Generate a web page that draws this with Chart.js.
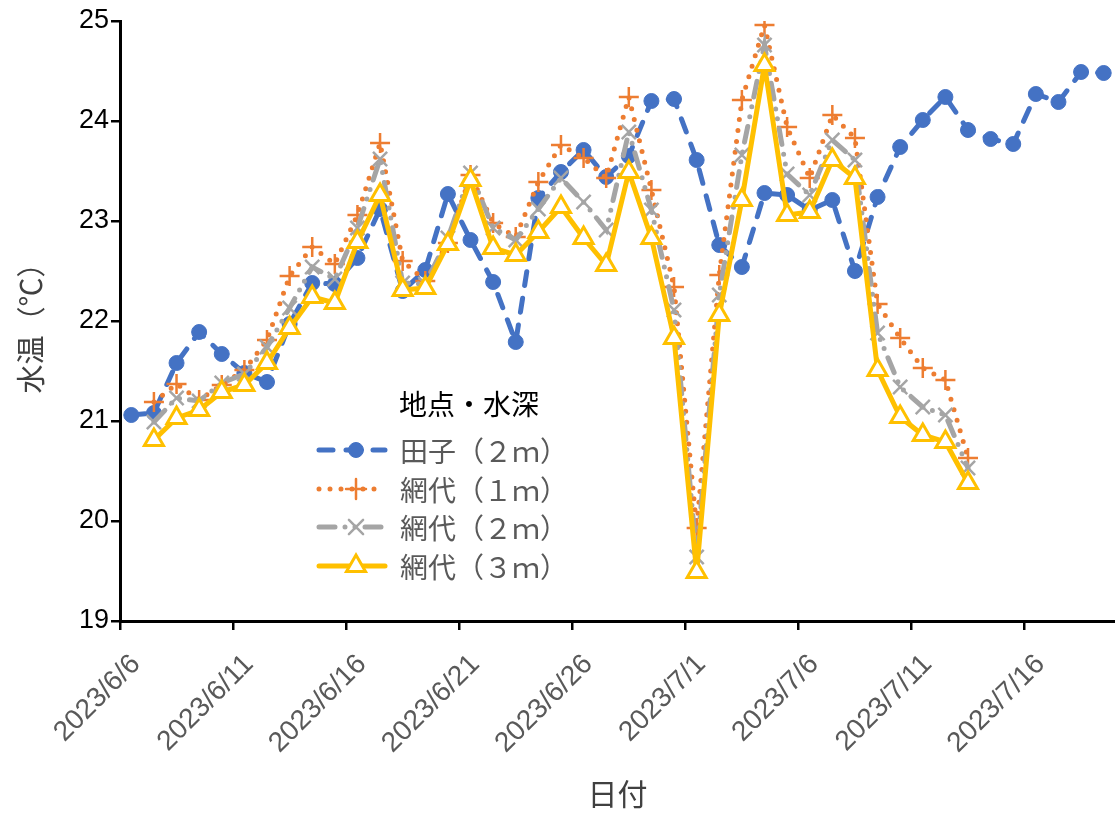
<!DOCTYPE html>
<html lang="ja">
<head>
<meta charset="utf-8">
<title>水温の推移</title>
<script src="https://cdn.jsdelivr.net/npm/chart.js@4.4.1/dist/chart.umd.min.js"></script>
<style>
  html, body { margin: 0; padding: 0; background: #fff; }
  #c { display: block; }
</style>
</head>
<body>
<canvas id="c" width="1115" height="814"></canvas>
<script>
// 観測日（日平均値、各日の正午に打点）
const dates = [
  '2023/6/6', '2023/6/7', '2023/6/8', '2023/6/9', '2023/6/10', '2023/6/11', '2023/6/12',
  '2023/6/13', '2023/6/14', '2023/6/15', '2023/6/16', '2023/6/17', '2023/6/18', '2023/6/19',
  '2023/6/20', '2023/6/21', '2023/6/22', '2023/6/23', '2023/6/24', '2023/6/25', '2023/6/26',
  '2023/6/27', '2023/6/28', '2023/6/29', '2023/6/30', '2023/7/1', '2023/7/2', '2023/7/3',
  '2023/7/4', '2023/7/5', '2023/7/6', '2023/7/7', '2023/7/8', '2023/7/9', '2023/7/10',
  '2023/7/11', '2023/7/12', '2023/7/13', '2023/7/14', '2023/7/15', '2023/7/16', '2023/7/17',
  '2023/7/18', '2023/7/19'
];

// 田子（2m）
const tago2m = [
  21.06, 21.08, 21.58, 21.89, 21.67, 21.48, 21.39, 21.97, 22.38, 22.37, 22.63,
  23.12, 22.30, 22.51, 23.27, 22.81, 22.39, 21.79, 23.23, 23.49, 23.71, 23.44,
  23.65, 24.20, 24.22, 23.61, 22.76, 22.54, 23.28, 23.26, 23.11, 23.21, 22.50,
  23.24, 23.74, 24.01, 24.24, 23.91, 23.82, 23.77, 24.27, 24.19, 24.49, 24.48
];

// 網代（1m）
const ajiro1m = [
  null, 21.19, 21.37, 21.21, 21.36, 21.51, 21.81, 22.45, 22.74, 22.57, 23.06,
  23.78, 22.60, 22.40, 22.78, 23.46, 22.98, 22.84, 23.39, 23.76, 23.63, 23.43,
  24.24, 23.31, 22.34, 19.93, 22.46, 24.21, 24.96, 23.94, 23.43, 24.06, 23.83,
  22.17, 21.83, 21.53, 21.41, 20.63, null, null, null, null, null, null
];

// 網代（2m）
const ajiro2m = [
  null, 20.99, 21.23, 21.20, 21.38, 21.47, 21.74, 22.13, 22.54, 22.42, 22.93,
  23.62, 22.38, 22.37, 22.83, 23.48, 22.93, 22.81, 23.12, 23.43, 23.19, 22.91,
  23.89, 23.11, 22.11, 19.64, 22.26, 23.66, 24.76, 23.47, 23.26, 23.81, 23.61,
  21.88, 21.34, 21.14, 21.06, 20.53, null, null, null, null, null, null
];

// 網代（3m）
const ajiro3m = [
  null, 20.81, 21.03, 21.11, 21.29, 21.36, 21.58, 21.93, 22.24, 22.18, 22.79,
  23.26, 22.31, 22.33, 22.77, 23.41, 22.73, 22.66, 22.89, 23.14, 22.83, 22.56,
  23.49, 22.83, 21.83, 19.49, 22.06, 23.21, 24.56, 23.06, 23.09, 23.61, 23.43,
  21.51, 21.04, 20.86, 20.79, 20.38, null, null, null, null, null, null
];

const seriesLabels = ['田子（２ｍ）', '網代（１ｍ）', '網代（２ｍ）', '網代（３ｍ）'];
const legendTitle = '地点・水深';
const xTickLabels = ['2023/6/6', '2023/6/11', '2023/6/16', '2023/6/21', '2023/6/26',
                     '2023/7/1', '2023/7/6', '2023/7/11', '2023/7/16'];
const yTicks = [19, 20, 21, 22, 23, 24, 25];

// 2023/6/6 00:00 からの経過日数を横軸にする
const DAY = 86400000;
const origin = new Date(2023, 5, 6).getTime();
const dayOf = s => {
  const [y, m, d] = s.split('/').map(Number);
  return Math.round((new Date(y, m - 1, d).getTime() - origin) / DAY);
};
const toPoints = vals => dates.map((s, i) => ({ x: dayOf(s) + 0.5, y: vals[i] }));
const tickDays = xTickLabels.map(dayOf);

const CJK = '"Noto Sans CJK JP", "Noto Sans", sans-serif';
const LATIN = '"Liberation Sans", Arial, sans-serif';

const datasets = [
  {
    label: seriesLabels[0], data: toPoints(tago2m), order: 4,
    borderColor: '#4472C4', borderWidth: 5, borderDash: [14, 13], borderCapStyle: 'round',
    pointStyle: 'circle', pointRadius: 7.5, pointBackgroundColor: '#4472C4',
    pointBorderColor: '#4472C4', pointBorderWidth: 1
  },
  {
    label: seriesLabels[1], data: toPoints(ajiro1m), order: 3,
    borderColor: '#ED7D31', borderWidth: 5, borderDash: [0, 11], borderCapStyle: 'round',
    pointStyle: 'cross', pointRadius: 10, pointBackgroundColor: '#ED7D31',
    pointBorderColor: '#ED7D31', pointBorderWidth: 2.5
  },
  {
    label: seriesLabels[2], data: toPoints(ajiro2m), order: 2,
    borderColor: '#A5A5A5', borderWidth: 5, borderDash: [16, 10, 0, 10, 0, 10], borderCapStyle: 'round',
    pointStyle: 'crossRot', pointRadius: 10, pointBackgroundColor: '#A5A5A5',
    pointBorderColor: '#A5A5A5', pointBorderWidth: 2.5
  },
  {
    label: seriesLabels[3], data: toPoints(ajiro3m), order: 1,
    borderColor: '#FFC000', borderWidth: 5, borderCapStyle: 'round', borderJoinStyle: 'round',
    pointStyle: 'triangle', pointRadius: 11, pointBackgroundColor: '#FFFFFF',
    pointBorderColor: '#FFC000', pointBorderWidth: 3
  }
];

// 斜めの日付ラベルを目盛りの右下寄りに置く
const shiftDateLabels = {
  id: 'shiftDateLabels',
  beforeDraw(chart) {
    const items = chart.scales.x.getLabelItems(chart.chartArea);
    items.forEach(it => {
      if (!it._shifted) {
        const t = it.options.translation;
        it.options.translation = [t[0] + 16, t[1] + 12];
        it._shifted = true;
      }
    });
  }
};

// 凡例（グラフ内に配置）
const insetLegend = {
  id: 'insetLegend',
  afterDatasetsDraw(chart) {
    const ctx = chart.ctx;
    const rows = [450, 489, 527, 566];
    ctx.save();
    ctx.textBaseline = 'middle';
    ctx.textAlign = 'left';
    ctx.fillStyle = '#000';
    ctx.font = '28px ' + CJK;
    ctx.fillText(legendTitle, 399, 404);
    chart.data.datasets.forEach((ds, k) => {
      const y = rows[k];
      ctx.save();
      ctx.strokeStyle = ds.borderColor;
      ctx.lineWidth = ds.borderWidth;
      ctx.lineCap = ds.borderCapStyle || 'butt';
      ctx.setLineDash(ds.borderDash || []);
      ctx.beginPath();
      ctx.moveTo(319, y);
      ctx.lineTo(385, y);
      ctx.stroke();
      ctx.setLineDash([]);
      ctx.fillStyle = ds.pointBackgroundColor;
      ctx.strokeStyle = ds.pointBorderColor;
      ctx.lineWidth = ds.pointBorderWidth;
      Chart.helpers.drawPoint(ctx, {
        pointStyle: ds.pointStyle, radius: ds.pointRadius, rotation: 0,
        borderWidth: ds.pointBorderWidth
      }, 356, y);
      ctx.restore();
      ctx.fillStyle = '#595959';
      ctx.font = '28px ' + CJK;
      ctx.fillText(ds.label, 400, y + 1);
    });
    ctx.restore();
  }
};

new Chart(document.getElementById('c'), {
  type: 'line',
  data: { datasets },
  plugins: [shiftDateLabels, insetLegend],
  options: {
    responsive: false,
    animation: false,
    devicePixelRatio: 1,
    layout: { autoPadding: false, padding: { top: 21, right: 0, bottom: 0, left: 0 } },
    plugins: { legend: { display: false }, tooltip: { enabled: false } },
    elements: { line: { tension: 0 } },
    scales: {
      x: {
        type: 'linear', min: 0, max: 44,
        afterFit(scale) { scale.height = 193; scale.paddingLeft = 0; scale.paddingRight = 0; },
        afterBuildTicks(scale) { scale.ticks = tickDays.map(v => ({ value: v })); },
        border: { color: '#000', width: 3 },
        grid: { display: true, drawOnChartArea: false, drawTicks: true, tickLength: 9, color: '#000', lineWidth: 2.5 },
        ticks: {
          autoSkip: false, maxRotation: 45, minRotation: 45, padding: 6,
          color: '#595959', font: { family: LATIN, size: 28 },
          callback: v => xTickLabels[tickDays.indexOf(v)]
        },
        title: {
          display: true, text: '日付', color: '#404040',
          font: { family: CJK, size: 30 }, padding: { top: 0, bottom: 2 }
        }
      },
      y: {
        min: 19, max: 25,
        afterFit(scale) { scale.width = 120; scale.paddingTop = 0; scale.paddingBottom = 0; },
        afterBuildTicks(scale) { scale.ticks = yTicks.map(v => ({ value: v })); },
        border: { color: '#000', width: 3 },
        grid: { display: true, drawOnChartArea: false, drawTicks: true, tickLength: 9, color: '#000', lineWidth: 2.5 },
        ticks: { padding: 2, color: '#000', font: { family: LATIN, size: 27 } },
        title: {
          display: true, text: '水温（℃）', color: '#404040',
          font: { family: CJK, size: 29 }, padding: { top: 14, bottom: 0 }
        }
      }
    }
  }
});
</script>
</body>
</html>
